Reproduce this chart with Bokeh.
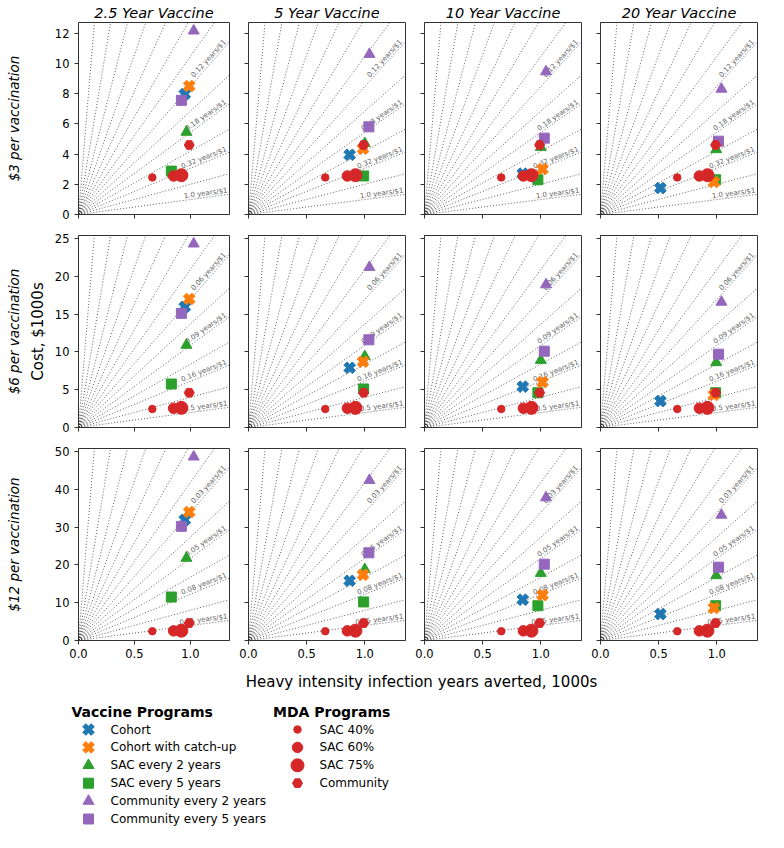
import math
from bokeh.plotting import figure
from bokeh.layouts import column, row
from bokeh.models import Range1d, FixedTicker, PrintfTickFormatter, CustomJSTickFormatter, Title
from bokeh.core.properties import value
from bokeh.embed import file_html
from bokeh.resources import INLINE

FONT = "DejaVu Sans"

# ---------------- data ----------------
column_titles = ["2.5 Year Vaccine", "5 Year Vaccine", "10 Year Vaccine", "20 Year Vaccine"]
row_titles = ["$3 per vaccination", "$6 per vaccination", "$12 per vaccination"]
y_axis_title = "Cost, $1000s"
x_axis_title = "Heavy intensity infection years averted, 1000s"

vaccine_programs = ["Cohort", "Cohort with catch-up", "SAC every 2 years",
                    "SAC every 5 years", "Community every 2 years", "Community every 5 years"]
mda_programs = ["SAC 40%", "SAC 60%", "SAC 75%", "Community"]

# heavy intensity infection years averted (1000s), one list per vaccine duration
vacc_x_2p5yr = [0.95, 0.99, 0.965, 0.83, 1.03, 0.92]
vacc_x_5yr = [0.87, 0.985, 1.00, 0.99, 1.04, 1.035]
vacc_x_10yr = [0.845, 1.015, 1.00, 0.975, 1.045, 1.03]
vacc_x_20yr = [0.515, 0.975, 0.995, 0.99, 1.04, 1.015]

# cost ($1000s) per price row / vaccine duration column
cost_3usd_2p5yr = [7.96, 8.5, 5.45, 2.87, 12.15, 7.55]
cost_3usd_5yr = [3.95, 4.35, 4.7, 2.55, 10.6, 5.8]
cost_3usd_10yr = [2.7, 3.0, 4.45, 2.3, 9.45, 5.05]
cost_3usd_20yr = [1.75, 2.15, 4.3, 2.3, 8.3, 4.85]

cost_6usd_2p5yr = [15.95, 17.0, 10.9, 5.75, 24.3, 15.1]
cost_6usd_5yr = [7.9, 8.7, 9.4, 5.1, 21.2, 11.6]
cost_6usd_10yr = [5.4, 6.0, 8.9, 4.6, 18.9, 10.1]
cost_6usd_20yr = [3.5, 4.3, 8.6, 4.6, 16.6, 9.7]

cost_12usd_2p5yr = [31.9, 34.0, 21.8, 11.5, 48.6, 30.2]
cost_12usd_5yr = [15.8, 17.4, 18.8, 10.2, 42.4, 23.2]
cost_12usd_10yr = [10.8, 12.0, 17.8, 9.2, 37.8, 20.2]
cost_12usd_20yr = [7.0, 8.6, 17.2, 9.2, 33.2, 19.4]

mda_x = [0.66, 0.85, 0.92, 0.99]
mda_cost = [2.45, 2.55, 2.6, 4.6]

x_ticks = [0.0, 0.5, 1.0]
y_ticks_3usd = [0, 2, 4, 6, 8, 10, 12]
y_ticks_6usd = [0, 5, 10, 15, 20, 25]
y_ticks_12usd = [0, 10, 20, 30, 40, 50]

ce_labels_3usd = ["1.0", "0.32", "0.18", "0.12"]
ce_labels_6usd = ["0.5", "0.16", "0.09", "0.06"]
ce_labels_12usd = ["0.25", "0.08", "0.05", "0.03"]

# ---------------- style / layout ----------------
vacc_x = [vacc_x_2p5yr, vacc_x_5yr, vacc_x_10yr, vacc_x_20yr]
costs = [[cost_3usd_2p5yr, cost_3usd_5yr, cost_3usd_10yr, cost_3usd_20yr],
         [cost_6usd_2p5yr, cost_6usd_5yr, cost_6usd_10yr, cost_6usd_20yr],
         [cost_12usd_2p5yr, cost_12usd_5yr, cost_12usd_10yr, cost_12usd_20yr]]
y_ticks = [y_ticks_3usd, y_ticks_6usd, y_ticks_12usd]
ce_labels = [ce_labels_3usd, ce_labels_6usd, ce_labels_12usd]
y_max = [12.7, 25.4, 50.8]
x_max = 1.35

vacc_colors = ["#1f77b4", "#ff7f0e", "#2ca02c", "#2ca02c", "#9467bd", "#9467bd"]
vacc_markers = ["plus", "plus", "triangle", "square", "triangle", "square"]
vacc_sizes = [12, 12, 11, 10, 11, 10]
vacc_angles = [math.pi / 4, math.pi / 4, 0, 0, 0, 0]
draw_order = [2, 3, 0, 1, 4, 5]
mda_color = "#d62728"
mda_markers = ["circle", "circle", "circle", "hex"]
mda_sizes = [7.5, 10.5, 13, 10]

ray_angles_deg = [6 * k for k in range(1, 15)]
label_angles_deg = [6, 18, 30, 42]

FW, FH = 157, 192
LEFT0, GAP = 72, 18
AXC = "#333333"

rows = []
for r in range(3):
    figs = []
    for c in range(4):
        left = LEFT0 if c == 0 else GAP
        top = 22 if r == 0 else 5
        bottom = 24 if r == 2 else 16
        p = figure(width=left + FW + 1, height=top + FH + bottom,
                   x_range=Range1d(0, x_max), y_range=Range1d(0, y_max[r]),
                   output_backend="svg", toolbar_location=None,
                   min_border_left=left, min_border_right=1,
                   min_border_top=top, min_border_bottom=bottom)
        p.outline_line_color = AXC
        p.outline_line_width = 1
        p.grid.visible = False
        p.background_fill_color = "white"
        p.border_fill_color = "white"

        for ax in (p.xaxis[0], p.yaxis[0]):
            ax.axis_line_color = AXC
            ax.major_tick_line_color = AXC
            ax.major_tick_out = 4
            ax.major_tick_in = 0
            ax.minor_tick_line_color = None
            ax.major_label_text_font = FONT
            ax.major_label_text_font_size = "11.5px"
            ax.major_label_text_color = "black"

        p.xaxis.ticker = FixedTicker(ticks=x_ticks)
        p.yaxis.ticker = FixedTicker(ticks=y_ticks[r])
        if r == 2:
            p.xaxis.formatter = PrintfTickFormatter(format="%.1f")
            p.xaxis.major_label_standoff = 4
        else:
            p.xaxis.formatter = CustomJSTickFormatter(code="return ''")
            p.xaxis.major_label_standoff = 0
            p.xaxis.major_label_text_font_size = "0px"
        if c == 0:
            p.yaxis.formatter = PrintfTickFormatter(format="%d")
            p.yaxis.axis_label = y_axis_title if r == 1 else " "
            p.yaxis.axis_label_text_font = FONT
            p.yaxis.axis_label_text_font_size = "15px"
            p.yaxis.axis_label_text_font_style = "normal"
            p.yaxis.axis_label_text_color = "black"
            p.yaxis.axis_label_standoff = 5
            p.add_layout(Title(text=row_titles[r], align="center", text_font=FONT,
                               text_font_size="13.5px", text_font_style="italic",
                               text_color="black", standoff=7), "left")
        else:
            p.yaxis.formatter = CustomJSTickFormatter(code="return ''")
            p.yaxis.major_label_standoff = 0
            p.yaxis.major_label_text_font_size = "0px"

        if r == 0:
            p.title.text = column_titles[c]
            p.title.align = "center"
            p.title.text_font = FONT
            p.title.text_font_size = "14.5px"
            p.title.text_font_style = "italic"
            p.title.text_color = "black"
            p.title.standoff = 3

        # cost-effectiveness rays
        xs, ys = [], []
        for th in ray_angles_deg:
            t = math.radians(th)
            cs, sn = math.cos(t), math.sin(t)
            m = max(cs, sn)
            xs.append([0, x_max * cs / m])
            ys.append([0, y_max[r] * sn / m])
        p.multi_line(xs, ys, line_color="black", line_width=0.7,
                     line_dash="1 2", line_alpha=0.9)
        lx, ly, lt, la = [], [], [], []
        for th, lab in zip(label_angles_deg, ce_labels[r]):
            t = math.tan(math.radians(th))
            lx.append(x_max * 0.99)
            ly.append(y_max[r] * t * 0.99)
            lt.append(lab + " years/$1")
            la.append(math.atan(t * FH / FW))
        p.text(x=lx, y=ly, text=lt, angle=la, text_align="right",
               text_baseline="bottom", text_font=value(FONT),
               text_font_size="7px", text_color="#666666")

        # vaccine programs
        for i in draw_order:
            p.scatter(x=[vacc_x[c][i]], y=[costs[r][c][i]], marker=vacc_markers[i],
                      size=vacc_sizes[i], angle=vacc_angles[i],
                      fill_color=vacc_colors[i], line_color=vacc_colors[i])
        # MDA programs
        for i in range(4):
            p.scatter(x=[mda_x[i]], y=[mda_cost[i]], marker=mda_markers[i],
                      size=mda_sizes[i], fill_color=mda_color, line_color=mda_color)
        figs.append(p)
    rows.append(row(*figs))

# ---------------- legend / x label area ----------------
TOTW = LEFT0 + FW + 1 + 3 * (GAP + FW + 1)
LH = 168
lg = figure(width=TOTW, height=LH, x_range=Range1d(0, TOTW), y_range=Range1d(LH, 0),
            output_backend="svg", toolbar_location=None, min_border=0)
lg.axis.visible = False
lg.grid.visible = False
lg.outline_line_color = None

lg.text(x=[421], y=[17], text=[x_axis_title], text_align="center", text_baseline="middle",
        text_font=value(FONT), text_font_size="15px", text_color="black")

lg.text(x=[71, 272.5], y=[47, 47], text=["Vaccine Programs", "MDA Programs"],
        text_align="left", text_baseline="middle", text_font=value(FONT),
        text_font_size="14px", text_font_style="bold", text_color="black")

item_y0, item_dy = 65, 17.9
for i, name in enumerate(vaccine_programs):
    yy = item_y0 + i * item_dy
    lg.scatter(x=[88], y=[yy], marker=vacc_markers[i], size=vacc_sizes[i],
               angle=vacc_angles[i], fill_color=vacc_colors[i], line_color=vacc_colors[i])
    lg.text(x=[110], y=[yy], text=[name], text_align="left", text_baseline="middle",
            text_font=value(FONT), text_font_size="12px", text_color="black")
for i, name in enumerate(mda_programs):
    yy = item_y0 + i * item_dy
    lg.scatter(x=[297], y=[yy], marker=mda_markers[i], size=mda_sizes[i],
               fill_color=mda_color, line_color=mda_color)
    lg.text(x=[319], y=[yy], text=[name], text_align="left", text_baseline="middle",
            text_font=value(FONT), text_font_size="12px", text_color="black")

layout = column(*rows, lg)
open("out.html", "w").write(file_html(layout, INLINE, title="Vaccine cost-effectiveness"))
